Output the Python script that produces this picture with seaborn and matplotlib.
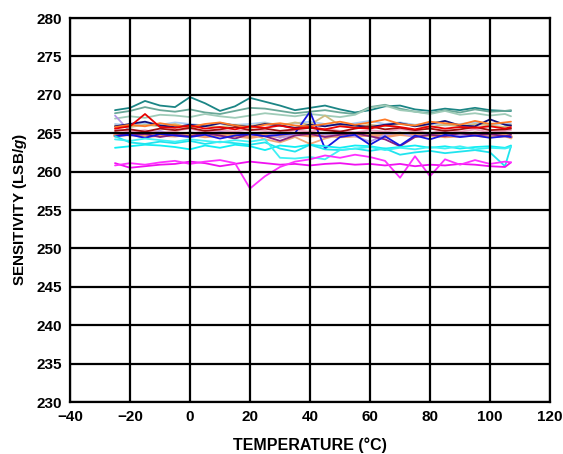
import numpy as np
import pandas as pd
import matplotlib
matplotlib.use("Agg")
import matplotlib.pyplot as plt
import seaborn as sns

temps = [-25, -20, -15, -10, -5, 0, 5, 10, 15, 20, 25, 30, 35, 40, 45, 50, 55, 60,
         65, 70, 75, 80, 85, 90, 95, 100, 105, 107]

teal = [268.0, 268.3, 269.2, 268.6, 268.4, 269.7, 268.9, 267.9, 268.5, 269.6, 269.1, 268.6, 268.0, 268.3,
        268.6, 268.1, 267.7, 268.0, 268.5, 268.6, 268.1, 267.9, 268.2, 268.0, 268.3, 268.0, 267.9, 267.9]
seagreen = [267.6, 267.9, 268.4, 268.0, 267.8, 268.1, 267.7, 267.5, 267.9, 268.3, 268.2, 267.9, 267.6, 267.8,
            268.0, 267.7, 267.5, 268.4, 268.7, 268.2, 267.8, 267.6, 268.0, 267.7, 268.1, 267.8, 267.9, 268.0]
lightteal = [266.9, 267.2, 267.0, 267.4, 267.3, 267.1, 267.5, 267.2, 267.0, 267.3, 267.6, 267.4, 267.2, 267.5,
             267.3, 267.1, 267.4, 268.3, 268.6, 268.0, 267.8, 267.5, 267.9, 267.4, 267.6, 267.3, 267.5, 267.2]
salmon = [264.7, 264.9, 264.6, 264.8, 264.7, 264.9, 264.6, 264.8, 264.7, 264.5, 264.8, 264.6, 264.9, 264.7,
          264.8, 264.6, 264.7, 264.8, 264.6, 264.9, 264.7, 264.8, 264.6, 264.7, 264.8, 264.6, 264.7, 264.5]
sandy = [265.0, 264.8, 265.1, 264.9, 265.2, 264.7, 265.0, 264.6, 264.9, 265.1, 264.2, 263.8, 264.5, 263.6,
         264.3, 264.8, 265.0, 264.7, 265.1, 264.9, 265.2, 264.8, 265.0, 264.7, 265.1, 264.9, 265.0, 264.3]
lightblue = [266.2, 266.0, 266.3, 266.1, 266.4, 266.2, 266.0, 266.3, 266.1, 266.2, 266.4, 266.0, 266.3, 266.5,
             266.2, 266.0, 266.3, 266.6, 266.2, 266.4, 266.1, 266.3, 266.0, 266.2, 266.4, 266.1, 266.3, 266.2]
lavender = [267.3, 265.2, 265.0, 265.3, 264.8, 265.1, 264.9, 265.2, 265.0, 264.7, 265.1, 264.4, 264.9, 265.2,
            264.8, 265.0, 264.6, 263.9, 264.8, 265.1, 264.5, 264.9, 265.2, 264.7, 265.0, 264.8, 265.1, 264.9]
pink = [265.5, 265.2, 265.4, 265.0, 265.3, 265.6, 265.1, 265.4, 265.2, 265.5, 265.3, 265.0, 265.4, 265.2,
        265.6, 265.3, 265.1, 265.4, 265.2, 265.5, 265.3, 265.0, 265.4, 265.2, 265.5, 265.1, 265.3, 265.4]
khaki = [266.0, 265.8, 266.1, 265.9, 266.2, 265.7, 266.0, 265.8, 266.1, 265.9, 266.3, 266.0, 266.4, 266.1,
         267.3, 266.0, 265.8, 266.1, 265.9, 266.2, 266.0, 265.8, 266.1, 265.9, 266.2, 266.0, 265.8, 266.1]
purple = [265.0, 264.7, 264.9, 264.5, 264.8, 264.6, 265.0, 264.7, 264.3, 264.9, 264.6, 264.0, 264.7, 264.9,
          264.5, 264.8, 265.0, 264.6, 264.2, 263.3, 264.5, 264.8, 264.6, 265.0, 264.7, 264.9, 264.6, 264.8]
blue = [264.6, 264.8, 264.4, 264.9, 264.7, 264.5, 264.8, 264.3, 264.7, 264.9, 264.6, 264.8, 265.0, 267.8,
        263.0, 264.5, 264.8, 263.5, 264.6, 263.4, 264.7, 264.2, 264.8, 264.5, 264.7, 264.4, 264.6, 264.5]
navy = [265.9, 266.2, 266.5, 266.0, 265.8, 266.1, 265.9, 266.3, 266.0, 265.8, 266.2, 266.0, 265.7, 266.1,
        265.9, 266.2, 266.0, 265.8, 266.1, 266.3, 265.9, 266.2, 266.6, 266.0, 265.9, 266.8, 266.1, 266.0]
orange = [265.8, 266.1, 265.9, 266.3, 266.0, 265.8, 266.2, 266.4, 266.0, 265.7, 266.1, 266.3, 266.0, 265.9,
          266.2, 266.5, 266.1, 266.4, 266.8, 266.2, 266.0, 266.5, 266.3, 266.1, 266.6, 266.2, 266.4, 266.5]
darkred = [265.3, 265.5, 265.2, 265.6, 265.4, 265.7, 265.3, 265.5, 265.8, 265.4, 265.6, 265.3, 265.5, 265.7,
           265.4, 265.2, 265.6, 265.9, 265.5, 265.7, 265.4, 265.6, 265.3, 265.5, 265.8, 265.4, 265.5, 265.6]
red = [265.6, 265.9, 267.5, 265.8, 265.7, 266.0, 265.6, 265.8, 265.5, 265.9, 265.7, 266.0, 265.6, 265.8,
       265.5, 265.9, 265.7, 265.6, 266.0, 265.8, 265.5, 265.9, 265.6, 265.8, 265.7, 265.9, 265.6, 265.8]
cyan = [263.1, 263.3, 263.5, 263.4, 263.2, 262.9, 263.4, 263.1, 263.5, 263.3, 262.8, 263.4, 263.2, 263.5,
        263.3, 263.1, 263.4, 263.3, 263.0, 263.2, 263.4, 263.1, 263.3, 263.0, 263.2, 263.3, 263.1, 263.4]
cyan2 = [264.6, 263.8, 263.6, 263.9, 263.7, 264.0, 263.6, 263.9, 263.7, 263.5, 263.8, 263.0, 262.6, 263.5,
         262.9, 262.8, 263.0, 262.7, 263.0, 262.2, 262.5, 262.7, 262.4, 262.6, 262.8, 262.5, 260.7, 263.3]
cyan3 = [264.2, 264.0, 264.3, 264.1, 263.9, 264.2, 264.0, 263.8, 264.1, 263.9, 264.2, 261.8, 261.7, 261.9,
         261.6, 262.8, 263.0, 263.2, 262.8, 263.1, 262.9, 263.2, 263.0, 263.3, 262.9, 263.1, 263.0, 263.2]
magenta = [261.1, 260.5, 260.7, 260.9, 261.0, 261.3, 261.1, 260.7, 261.0, 261.3, 261.1, 260.9, 261.0, 260.8,
           261.0, 261.1, 260.9, 261.0, 260.8, 261.0, 260.7, 260.9, 260.8, 261.0, 260.9, 260.7, 260.6, 261.2]
magenta2 = [260.8, 261.1, 260.9, 261.2, 261.4, 261.0, 261.3, 261.5, 261.1, 257.8, 259.4, 260.6, 261.3, 261.6,
            262.1, 261.8, 262.2, 261.9, 261.4, 259.2, 262.0, 259.4, 261.6, 260.9, 261.5, 261.0, 261.3, 261.2]

series = {
    "teal": (teal, "#1b8585"),
    "seagreen": (seagreen, "#6aa898"),
    "lightteal": (lightteal, "#9fcbb8"),
    "lightblue": (lightblue, "#a8ccf4"),
    "salmon": (salmon, "#f49a6c"),
    "sandy": (sandy, "#f0a878"),
    "lavender": (lavender, "#b59ae8"),
    "pink": (pink, "#f2a6c4"),
    "khaki": (khaki, "#cdbb80"),
    "purple": (purple, "#86207e"),
    "blue": (blue, "#1818e0"),
    "navy": (navy, "#10107a"),
    "orange": (orange, "#ff7a26"),
    "darkred": (darkred, "#a01010"),
    "red": (red, "#e80000"),
    "cyan": (cyan, "#10eef4"),
    "cyan2": (cyan2, "#20e4ee"),
    "cyan3": (cyan3, "#40f0f4"),
    "magenta": (magenta, "#f010f0"),
    "magenta2": (magenta2, "#ff30ff"),
}

rows = []
for name, (vals, _) in series.items():
    for t, v in zip(temps, vals):
        rows.append({"device": name, "temp": t, "sens": v})
df = pd.DataFrame(rows)
order = list(series.keys())
palette = {k: c for k, (_, c) in series.items()}

sns.set_style("white")
plt.rcParams["font.family"] = ["Liberation Sans", "DejaVu Sans"]
plt.rcParams["text.color"] = "black"
plt.rcParams["axes.labelcolor"] = "black"
plt.rcParams["xtick.color"] = "black"
plt.rcParams["ytick.color"] = "black"
plt.rcParams["mathtext.fontset"] = "custom"
plt.rcParams["mathtext.rm"] = "Liberation Sans:bold"
plt.rcParams["mathtext.it"] = "Liberation Sans:bold:italic"

fig = plt.figure(figsize=(5.63, 4.54), dpi=100)
ax = fig.add_axes([70 / 563, 1 - 402 / 454, 480 / 563, 384 / 454])

sns.lineplot(data=df, x="temp", y="sens", hue="device", hue_order=order,
             palette=palette, legend=False, linewidth=1.3, ax=ax, estimator=None)
ax.lines[order.index("salmon")].set_linewidth(2.8)

ax.set_xlim(-40, 120)
ax.set_ylim(230, 280)
ax.set_xticks(range(-40, 121, 20))
ax.set_yticks(range(230, 281, 5))
ax.set_axisbelow(False)
ax.grid(True, color="black", linewidth=1.6)
for s in ax.spines.values():
    s.set_color("black")
    s.set_linewidth(1.6)
ax.tick_params(length=0, labelsize=11, pad=6)
for lab in ax.get_xticklabels() + ax.get_yticklabels():
    lab.set_fontweight("bold")
ax.set_xlabel("TEMPERATURE (°C)", fontsize=11.5, fontweight="bold")
ax.xaxis.set_label_coords(0.5, -0.092)
ax.set_ylabel("SENSITIVITY (LSB/$g$)", fontsize=11, fontweight="bold", labelpad=5)

fig.savefig("out.png", dpi=100)
